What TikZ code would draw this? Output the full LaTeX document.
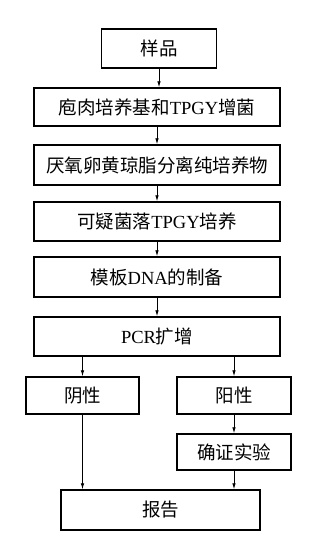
\documentclass[tikz,border=0pt]{standalone}
\usepackage{fontspec}
\setmainfont{Liberation Serif}
\newfontfamily\cjk{Noto Sans CJK SC}
\usetikzlibrary{arrows.meta,positioning}

\begin{document}
\begin{tikzpicture}[x=1pt,y=-1pt,
    flowbox/.style={draw,line width=1.4pt,minimum height=39pt,inner sep=0pt,
      font=\fontsize{18.5}{20}\selectfont},
    widebox/.style={flowbox,minimum width=246pt},
    smallbox/.style={flowbox,minimum width=113pt,minimum height=37pt},
    flowarrow/.style={-{Latex[length=6pt,width=3.5pt]},line width=0.8pt}]
  \useasboundingbox (0,0) rectangle (312,544);

  % main column
  \node[flowbox,minimum width=115pt] (sample) at (159,48.5) {\cjk 样品};
  \node[widebox,minimum height=38pt] (enrich) at (157,107) {{\cjk 庖肉培养基和}TPGY{\cjk 增菌}};
  \node[widebox,minimum height=40pt] (isolate) at (157,165) {\cjk 厌氧卵黄琼脂分离纯培养物};
  \node[widebox] (culture) at (157,221.5) {{\cjk 可疑菌落}TPGY{\cjk 培养}};
  \node[widebox,minimum height=40pt] (dna) at (157,277) {{\cjk 模板}DNA{\cjk 的制备}};
  \node[widebox] (pcr) at (157,336.5) {PCR{\cjk 扩增}};

  % two branches
  \node[smallbox] (neg) at (82.5,395.5) {\cjk 阴性};
  \node[smallbox,minimum width=114pt] (pos) at (234,395.5) {\cjk 阳性};
  \node[smallbox,minimum width=114pt,minimum height=36pt] (confirm) at (234,452) {\cjk 确证实验};
  \node[flowbox,minimum width=199pt,minimum height=40pt] (report) at (160.5,510) {\cjk 报告};

  \draw[flowarrow] (sample.south) -- (sample.south |- enrich.north);
  \draw[flowarrow] (enrich) -- (isolate);
  \draw[flowarrow] (isolate) -- (culture);
  \draw[flowarrow] (culture) -- (dna);
  \draw[flowarrow] (dna) -- (pcr);
  \draw[flowarrow] (pcr.south -| neg) -- (neg.north);
  \draw[flowarrow] (pcr.south -| pos) -- (pos.north);
  \draw[flowarrow] (pos) -- (confirm);
  \draw[flowarrow] (neg.south) -- (neg.south |- report.north);
  \draw[flowarrow] (confirm.south) -- (confirm.south |- report.north);
\end{tikzpicture}
\end{document}
